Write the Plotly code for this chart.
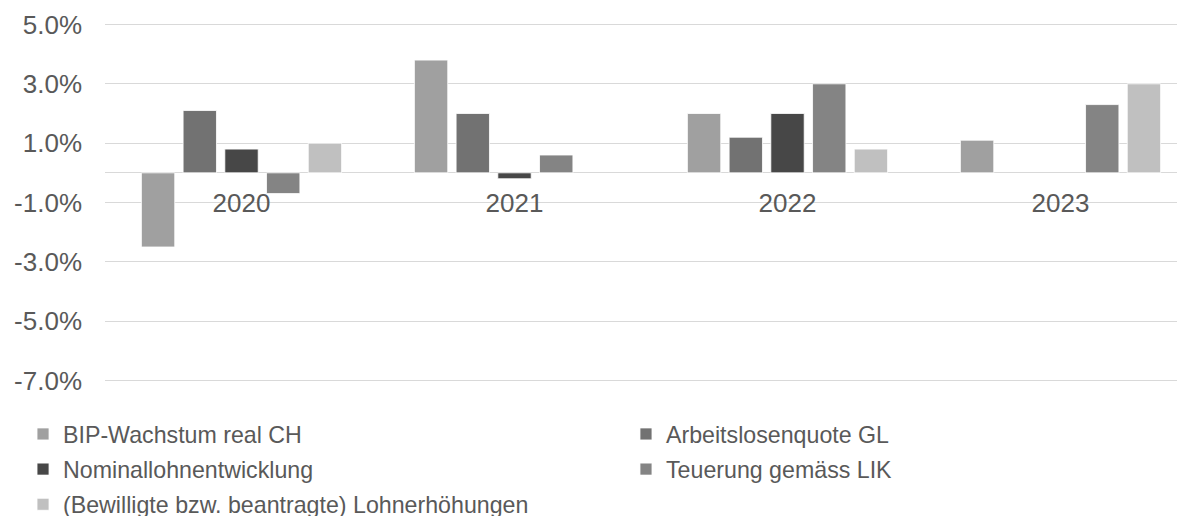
import plotly.graph_objects as go

years = ["2020", "2021", "2022", "2023"]
series_names = [
    "BIP-Wachstum real CH",
    "Arbeitslosenquote GL",
    "Nominallohnentwicklung",
    "Teuerung gemäss LIK",
    "(Bewilligte bzw. beantragte) Lohnerhöhungen",
]
bip = [-2.5, 3.8, 2.0, 1.1]
arbeitslos = [2.1, 2.0, 1.2, None]
nominallohn = [0.8, -0.2, 2.0, None]
teuerung = [-0.7, 0.6, 3.0, 2.3]
lohnerhoehung = [1.0, None, 0.8, 3.0]
colors = ["#a0a0a0", "#727272", "#474747", "#848484", "#c0c0c0"]
legend_column = ["legend", "legend2", "legend", "legend2", "legend"]

y_ticks = [-7, -5, -3, -1, 1, 3, 5]

values = [bip, arbeitslos, nominallohn, teuerung, lohnerhoehung]

fig = go.Figure()
for i, (name, vals, col, leg) in enumerate(zip(series_names, values, colors, legend_column)):
    fig.add_trace(go.Bar(
        x=years, y=vals, name=name,
        marker=dict(color=col, line=dict(color="rgba(255,255,255,0.8)", width=1)),
        legend=leg, legendgroup=f"g{i}",
        hoverinfo="x+y+name",
    ))

ymin, ymax = -7.05, 5.05
zero_pos = (0 - ymin) / (ymax - ymin)

font_color = "#595959"
legend_common = dict(
    orientation="v", xanchor="left", yanchor="top",
    font=dict(size=23.2, color=font_color),
    itemwidth=30, traceorder="grouped", tracegroupgap=2,
    bgcolor="rgba(0,0,0,0)",
)
fig.update_layout(
    width=1177, height=508,
    margin=dict(l=97, r=0, t=15, b=134, autoexpand=False),
    paper_bgcolor="white", plot_bgcolor="white",
    barmode="group", bargap=0.236, bargroupgap=0.2,
    font=dict(family="Liberation Sans, Arial, sans-serif", size=24, color=font_color),
    showlegend=True,
    legend=dict(x=-0.0759, y=-0.0846, **legend_common),
    legend2=dict(x=0.4824, y=-0.0846, **legend_common),
    xaxis=dict(
        type="category", range=[-0.5, 3.456],
        anchor="free", position=zero_pos,
        showline=False, showgrid=False, zeroline=False,
        ticks="", ticklabelstandoff=12,
        tickfont=dict(size=26, color=font_color),
    ),
    yaxis=dict(
        range=[ymin, ymax],
        tickmode="array", tickvals=y_ticks,
        ticktext=[f"{v:.1f}%" for v in y_ticks],
        showgrid=True, gridcolor="#d9d9d9", gridwidth=1,
        zeroline=True, zerolinecolor="#d9d9d9", zerolinewidth=1,
        showline=False, ticks="", ticklabelstandoff=22,
        tickfont=dict(size=26, color=font_color),
    ),
)

fig.write_html("out.html")
